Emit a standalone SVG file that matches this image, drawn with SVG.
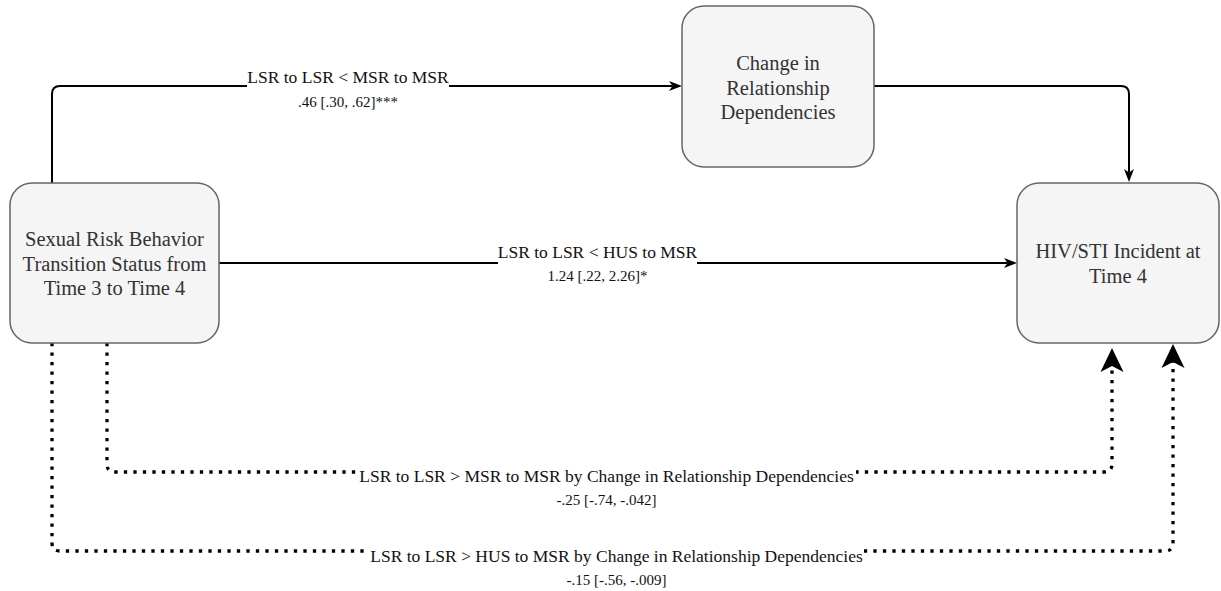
<svg xmlns="http://www.w3.org/2000/svg" width="1221" height="591" viewBox="0 0 1221 591" font-family="'Liberation Serif', 'DejaVu Serif', serif">
<style>
.node rect{fill:#f5f5f5;stroke:#666;stroke-width:1.5}
text{font-family:'Liberation Serif', 'DejaVu Serif', serif}
.nt{font-size:20.5px;fill:#333;text-anchor:middle}
.lb{font-size:17.5px;fill:#111;text-anchor:middle}
.ls{font-size:15px;fill:#111;text-anchor:middle}
.solid{fill:none;stroke:#000;stroke-width:2}
.dot{fill:none;stroke:#000;stroke-width:3.3;stroke-dasharray:3.3 6.2}
.bg{fill:#fff}
</style>
<defs>
<marker id="arr" markerUnits="userSpaceOnUse" markerWidth="14" markerHeight="11" refX="3.5" refY="5" orient="auto" overflow="visible">
<path d="M0,0 L13,5 L0,10 L3.5,5 z" fill="#000"/>
</marker>
<marker id="big" markerUnits="userSpaceOnUse" markerWidth="25" markerHeight="24" refX="6" refY="11.5" orient="auto" overflow="visible">
<path d="M0,0 L24,11.5 L0,23 L6,11.5 z" fill="#000"/>
</marker>
</defs>
<g id="connectors">
<path class="solid" d="M52,183 V94 Q52,86 60,86 H672.5" marker-end="url(#arr)"/>
<path class="solid" d="M874,86 H1121 Q1129,86 1129,94 V172.5" marker-end="url(#arr)"/>
<path class="solid" d="M219,263 H1007.5" marker-end="url(#arr)"/>
<path class="dot" d="M107,343 V464 Q107,472 115,472 H1104 Q1112,472 1112,464 V366" marker-end="url(#big)"/>
<path class="dot" d="M52,343 V543 Q52,551 60,551 H1165 Q1173,551 1173,543 V362" marker-end="url(#big)"/>
<g id="label-top">
<rect class="bg" x="247" y="67" width="202" height="42"/>
<text class="lb" x="348" y="83" font-family="Liberation Serif">LSR to LSR &lt; MSR to MSR</text>
<text class="ls" x="348" y="107" font-family="Liberation Serif">.46 [.30, .62]***</text>
</g>
<g id="label-main">
<rect class="bg" x="498" y="243" width="199" height="42"/>
<text class="lb" x="597.5" y="258" font-family="Liberation Serif">LSR to LSR &lt; HUS to MSR</text>
<text class="ls" x="597.5" y="281" font-family="Liberation Serif">1.24 [.22, 2.26]*</text>
</g>
<g id="label-ind1">
<rect class="bg" x="357" y="462" width="499" height="47"/>
<text class="lb" x="606.5" y="482" font-family="Liberation Serif">LSR to LSR &gt; MSR to MSR by Change in Relationship Dependencies</text>
<text class="ls" x="606.5" y="505" font-family="Liberation Serif">-.25 [-.74, -.042]</text>
</g>
<g id="label-ind2">
<rect class="bg" x="369" y="541" width="495" height="48"/>
<text class="lb" x="616.5" y="562" font-family="Liberation Serif">LSR to LSR &gt; HUS to MSR by Change in Relationship Dependencies</text>
<text class="ls" x="616.5" y="585" font-family="Liberation Serif">-.15 [-.56, -.009]</text>
</g>
</g>
<g id="node-srb" class="node">
<rect x="10" y="183" width="209" height="160" rx="22"/>
<text class="nt" x="114.5" y="246" font-family="Liberation Serif">Sexual Risk Behavior</text>
<text class="nt" x="114.5" y="271" font-family="Liberation Serif">Transition Status from</text>
<text class="nt" x="114.5" y="295" font-family="Liberation Serif">Time 3 to Time 4</text>
</g>
<g id="node-crd" class="node">
<rect x="682" y="6" width="192" height="161" rx="22"/>
<text class="nt" x="778" y="70" font-family="Liberation Serif">Change in</text>
<text class="nt" x="778" y="94.5" font-family="Liberation Serif">Relationship</text>
<text class="nt" x="778" y="119" font-family="Liberation Serif">Dependencies</text>
</g>
<g id="node-hiv" class="node">
<rect x="1017" y="183" width="202" height="160" rx="22"/>
<text class="nt" x="1118" y="258" font-family="Liberation Serif">HIV/STI Incident at</text>
<text class="nt" x="1118" y="283" font-family="Liberation Serif">Time 4</text>
</g>
</svg>
